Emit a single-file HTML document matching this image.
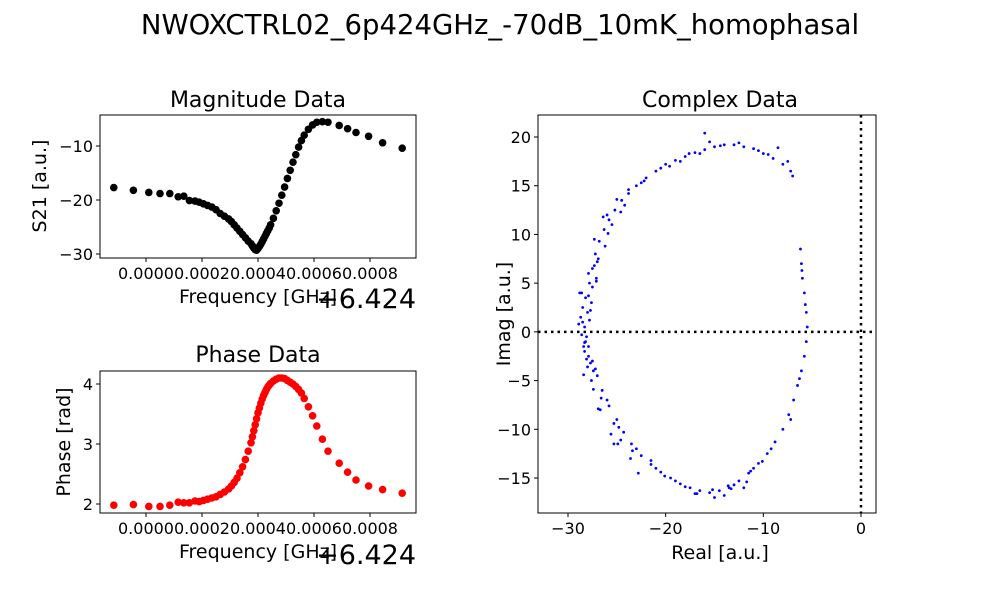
<!DOCTYPE html>
<html><head><meta charset="utf-8"><style>
body{margin:0;background:#fff;}
svg text{font-family:"DejaVu Sans","Liberation Sans",sans-serif;fill:#000;}
</style></head><body>
<svg id="fig" width="1000" height="600" xmlns="http://www.w3.org/2000/svg">
<rect width="1000" height="600" fill="#fff"/>
<text x="500" y="34" font-size="27.5" text-anchor="middle">NWOXCTRL02_6p424GHz_-70dB_10mK_homophasal</text>
</svg>
<script>
// frequency offsets (x1e-4 GHz from 6.424)
const freq=[-1.15,-0.45,0.1,0.5,0.85,1.15,1.35,1.55,1.75,1.9,2.05,2.2,2.35,2.5,2.65,2.8,2.95,3.05,3.15,3.25,3.35,3.45,3.55,3.65,3.75,3.8,3.85,3.9,3.95,4.0,4.05,4.1,4.15,4.2,4.25,4.3,4.35,4.4,4.45,4.55,4.65,4.75,4.85,4.95,5.05,5.15,5.25,5.35,5.45,5.55,5.65,5.8,5.95,6.1,6.3,6.5,6.9,7.2,7.5,7.95,8.45,9.15];
const mag=[-17.7,-18.2,-18.6,-18.8,-18.8,-19.4,-19.3,-20.1,-20.2,-20.4,-20.7,-21.0,-21.3,-21.8,-22.5,-23.0,-23.5,-24.0,-24.6,-25.2,-25.8,-26.4,-27.0,-27.6,-28.1,-28.5,-28.9,-29.2,-29.3,-29.0,-28.6,-28.2,-27.7,-27.2,-26.7,-26.2,-25.7,-25.2,-24.6,-23.4,-22.0,-20.6,-19.1,-17.6,-16.0,-14.5,-13.0,-11.6,-10.2,-9.0,-8.0,-6.9,-6.1,-5.6,-5.5,-5.6,-6.2,-6.8,-7.5,-8.2,-9.4,-10.4];
const phase=[1.98,1.99,1.96,1.96,1.98,2.03,2.02,2.02,2.05,2.04,2.06,2.08,2.10,2.12,2.16,2.20,2.25,2.30,2.36,2.43,2.52,2.62,2.74,2.88,3.02,3.12,3.22,3.32,3.42,3.52,3.60,3.68,3.75,3.81,3.86,3.91,3.95,3.98,4.01,4.05,4.08,4.10,4.10,4.09,4.06,4.03,4.00,3.96,3.91,3.85,3.76,3.62,3.47,3.30,3.08,2.88,2.68,2.53,2.40,2.30,2.24,2.18];
const re=[-28.3,-28.0,-28.2,-27.8,-27.5,-27.2,-26.8,-26.3,-25.8,-25.2,-24.5,-23.8,-23,-22,-21,-20,-19,-18,-17,-16,-15,-14,-13,-12,-11,-10,-9,-8,-7.2,-28.5,-27.6,-28.6,-27.1,-26.9,-25.5,-24.2,-22.5,-20.5,-18.5,-16.5,-15.5,-12.5,-10.5,-9.5,-7.5,-7,-27.3,-26,-25,-27.9,-28.1,-6.2,-6.1,-6,-5.8,-5.6,-5.5,-5.6,-5.8,-6.1,-6.5,-6.9,-7.4,-8,-8.8,-9.6,-10.5,-11.5,-12.5,-13.5,-14.5,-15.5,-16.5,-17.5,-18.5,-19.5,-20.5,-21.5,-22.5,-23.5,-24.3,-25,-25.8,-26.5,-27,-27.5,-27.9,-7.2,-9.2,-11,-13,-15,-17,-19,-21,-23,-24.8,-26,-27.2,-28.3,-27.6,-26.7,-25.3,-23.6,-22.8,-12,-14,-6.3,-5.7,-6.05,-28.8,-28.4,-27.9,-28.7,-27.4,-26.4,-24.9,-16,-28.5,-28.2,-27.7,-27.7,-28.1,-27.5,-28.6,-27.8,-28.0,-27.3,-28.4,-27.0,-26.6,-25.9,-25.3,-24.6,-23.4,-22.2,-21.5,-19.6,-17.6,-14.4,-13.3,-11.7,-8.5,-26.2,-26.9,-27.4,-27.9,-25.6,-24.6,-23.8,-20.1,-18.0,-16.8,-15.2,-13.6,-11.3,-10.1,-27.1,-28.3,-28.9];
const im=[0.5,2,3.5,5,6.5,8,9.3,10.5,11.5,12.5,13.5,14.2,15,15.8,16.5,17.2,17.6,18,18.4,18.7,19,19.2,19.2,19,18.8,18.3,17.8,17.2,16.5,1,3,4,5.5,7.5,11,13,15.3,16.8,17.5,18.3,19.5,19.4,18.6,18.2,17.5,16,9.5,12,13.6,6,-0.5,8.5,7,5.5,4,2,0.5,-1,-2.5,-4,-5.5,-7,-8.5,-10,-11.3,-12.5,-13.5,-14.5,-15.3,-16,-16.3,-16.5,-16.3,-16,-15.6,-15,-14.4,-13.6,-12.7,-11.5,-10.3,-9,-7.6,-6,-4.5,-3,-1.5,-9,-12,-14,-15.7,-17,-16.6,-15.3,-14,-12,-9.8,-7,-3.8,-2,-5,-8,-11.5,-13,-14.5,-16,-16.8,-4.8,2.8,6.3,4,-1.5,-2.5,1.5,-4,11.8,-11.5,20.4,2.5,-1,-3.2,2.2,-2.8,4.6,-0.3,1.2,-3.6,6.8,-4.4,7.2,-6.8,10.1,-9.4,12.3,-12.2,15.5,-13.2,17.0,18.3,19.1,-16.1,-15.4,18.9,8.8,-7.9,-5.9,3.7,-10.5,-11.1,14.6,-14.8,-15.9,-16.6,-16.2,-15.8,-14.3,-13.3,5.2,-1.1,0.8];

const NS="http://www.w3.org/2000/svg";
const svg=document.getElementById('fig');
function mk(tag,attrs,parent){const e=document.createElementNS(NS,tag);for(const k in attrs)e.setAttribute(k,attrs[k]);(parent||svg).appendChild(e);return e;}
function txt(x,y,s,size,anchor,parent,rot){const t=mk('text',{x:x,y:y,'font-size':size,'text-anchor':anchor||'middle'},parent);if(rot)t.setAttribute('transform','rotate(-90 '+x+' '+y+')');t.textContent=s;return t;}
function lin(d0,d1,p0,p1){return v=>p0+(v-d0)*(p1-p0)/(d1-d0);}

function axesFrame(name){
  const g=mk('g',{});
  
  
  return g;
}
function frame(g,L,T,R,B){mk('rect',{x:L,y:T,width:R-L,height:B-T,fill:'none',stroke:'#000','stroke-width':1},g);}
function xticks(g,xs,labels,B,vals){vals.forEach((v,i)=>{const x=xs(v);const tk=mk('line',{x1:x,y1:B,x2:x,y2:B+4,stroke:'#000'},g);const t=txt(x,B+21,labels[i],16,'middle',g);});}
function yticks(g,ys,labels,L,vals){vals.forEach((v,i)=>{const y=ys(v);const tk=mk('line',{x1:L,y1:y,x2:L-4,y2:y,stroke:'#000'},g);const t=txt(L-7,y+6,labels[i],16,'end',g);});}

const fTickVals=[0,2,4,6,8];
const fTickLabels=['0.0000','0.0002','0.0004','0.0006','0.0008'];

// Magnitude
{const L=100,T=115,R=416,B=258;
 const g=axesFrame('magnitude-axes');
 const xs=lin(0,8,146,370), ys=lin(-10,-30,146,254);
 freq.forEach((f,i)=>{const c=mk('circle',{cx:xs(f),cy:ys(mag[i]),r:3.8,fill:'#000'},g);});
 frame(g,L,T,R,B);
 xticks(g,xs,fTickLabels,B,fTickVals);
 yticks(g,ys,['−10','−20','−30'],L,[-10,-20,-30]);
 const t1=txt(258,107,'Magnitude Data',22,'middle',g);
 const t2=txt(258,303,'Frequency [GHz]',19,'middle',g);
 const t3=txt(46,186,'S21 [a.u.]',19,'middle',g,true);
 const t4=txt(416,308,'+6.424',27,'end',g);
}
// Phase
{const L=100,T=371,R=416,B=513;
 const g=axesFrame('phase-axes');
 const xs=lin(0,8,146,370), ys=lin(4,2,384,504);
 freq.forEach((f,i)=>{const c=mk('circle',{cx:xs(f),cy:ys(phase[i]),r:3.8,fill:'#ff0000'},g);});
 frame(g,L,T,R,B);
 xticks(g,xs,fTickLabels,B,fTickVals);
 yticks(g,ys,['4','3','2'],L,[4,3,2]);
 const t1=txt(258,362,'Phase Data',22,'middle',g);
 const t2=txt(258,558,'Frequency [GHz]',19,'middle',g);
 const t3=txt(70,442,'Phase [rad]',19,'middle',g,true);
 const t4=txt(416,564,'+6.424',27,'end',g);
}
// Complex
{const L=538,T=115,R=876,B=513;
 const g=axesFrame('complex-axes');
 const xs=lin(-30,0,568,861), ys=lin(20,-15,137,478);
 const h=mk('line',{x1:L,y1:ys(0),x2:R,y2:ys(0),stroke:'#000','stroke-width':2.5,'stroke-dasharray':'2.5,4'},g);
 const v=mk('line',{x1:xs(0),y1:T,x2:xs(0),y2:B,stroke:'#000','stroke-width':2.5,'stroke-dasharray':'2.5,4'},g);
 re.forEach((r,i)=>{const c=mk('circle',{cx:xs(r),cy:ys(im[i]),r:1.4,fill:'#0000ff'},g);});
 frame(g,L,T,R,B);
 xticks(g,xs,['−30','−20','−10','0'],B,[-30,-20,-10,0]);
 yticks(g,ys,['20','15','10','5','0','−5','−10','−15'],L,[20,15,10,5,0,-5,-10,-15]);
 const t1=txt(720,107,'Complex Data',22,'middle',g);
 const t2=txt(720,559,'Real [a.u.]',19,'middle',g);
 const t3=txt(510,314,'Imag [a.u.]',19,'middle',g,true);
}
</script>
</body></html>
